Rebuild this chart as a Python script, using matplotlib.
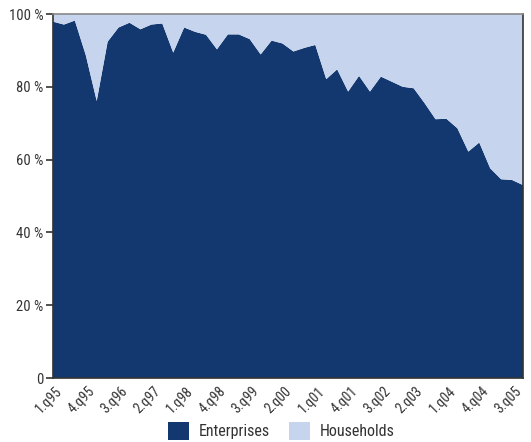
import matplotlib
matplotlib.use("Agg")
import matplotlib.pyplot as plt
import matplotlib.transforms as mtransforms
from matplotlib import font_manager
import numpy as np

# pick a narrow face if one is there
names = set(f.name for f in font_manager.fontManager.ttflist)
fam = "DejaVu Sans"
for cand in ["Liberation Sans Narrow", "Roboto Condensed", "DejaVu Sans Condensed",
             "Open Sans Condensed", "Liberation Sans"]:
    if cand in names:
        fam = cand
        break
plt.rcParams['font.family'] = [fam, 'DejaVu Sans']

# share of enterprises, per quarter 1.q95 .. 4.q05
enterprises = [97.9, 97.1, 98.2, 88.7, 76.1, 92.4, 96.3, 97.6, 95.8, 97.1,
               97.4, 89.4, 96.3, 95.1, 94.3, 90.3, 94.4, 94.4, 93.1, 88.9,
               92.7, 91.9, 89.7, 90.7, 91.5, 82.1, 84.8, 78.7, 83.0, 78.7,
               82.8, 81.4, 80.0, 79.6, 75.5, 71.1, 71.2, 68.6, 62.2, 64.7,
               57.6, 54.6, 54.4, 53.0]
households = [100 - v for v in enterprises]

quarters = []
for yr in range(1995, 2006):
    for q in range(1, 5):
        quarters.append("%d.q%02d" % (q, yr % 100))
quarters = quarters[:len(enterprises)]

dark = "#12386f"
light = "#c6d4ed"

fig = plt.figure(figsize=(5.31, 4.42), dpi=100)
ax = fig.add_axes([53/531, 1-378/442, 470/531, 364/442])

x = np.arange(len(enterprises))
ax.stackplot(x, enterprises, households, colors=[dark, light],
             labels=["Enterprises", "Households"], linewidth=0)

ax.set_xlim(0, len(enterprises) - 1)
ax.set_ylim(0, 100)

ax.set_yticks([0, 20, 40, 60, 80, 100])
ax.set_yticklabels(["0", "20 %", "40 %", "60 %", "80 %", "100 %"])
ax.tick_params(axis='y', length=5, width=1.2, color="#333333", pad=2,
               labelsize=10.5, labelcolor="#333333")

ticks = x[::3]
ax.set_xticks(ticks)
ax.set_xticklabels([quarters[i] for i in ticks], rotation=45, ha='right',
                   va='center', rotation_mode='anchor')
ax.tick_params(axis='x', length=0, pad=8, labelsize=10, labelcolor="#333333")
off = mtransforms.ScaledTranslation(7/100, 0, fig.dpi_scale_trans)
for lab in ax.get_xticklabels():
    lab.set_transform(lab.get_transform() + off)

for s in ["left", "bottom", "right"]:
    ax.spines[s].set_color("#333333")
    ax.spines[s].set_linewidth(1.2)
ax.spines["top"].set_color("#888888")
ax.spines["top"].set_linewidth(1.2)

leg = fig.legend(loc="lower center", bbox_to_anchor=(0.53, -0.027), ncol=2,
                 frameon=False, fontsize=11.5, handlelength=1.3,
                 handleheight=1.3, columnspacing=1.2, handletextpad=0.6)
for t in leg.get_texts():
    t.set_color("#333333")

fig.savefig("out.png", dpi=100)
